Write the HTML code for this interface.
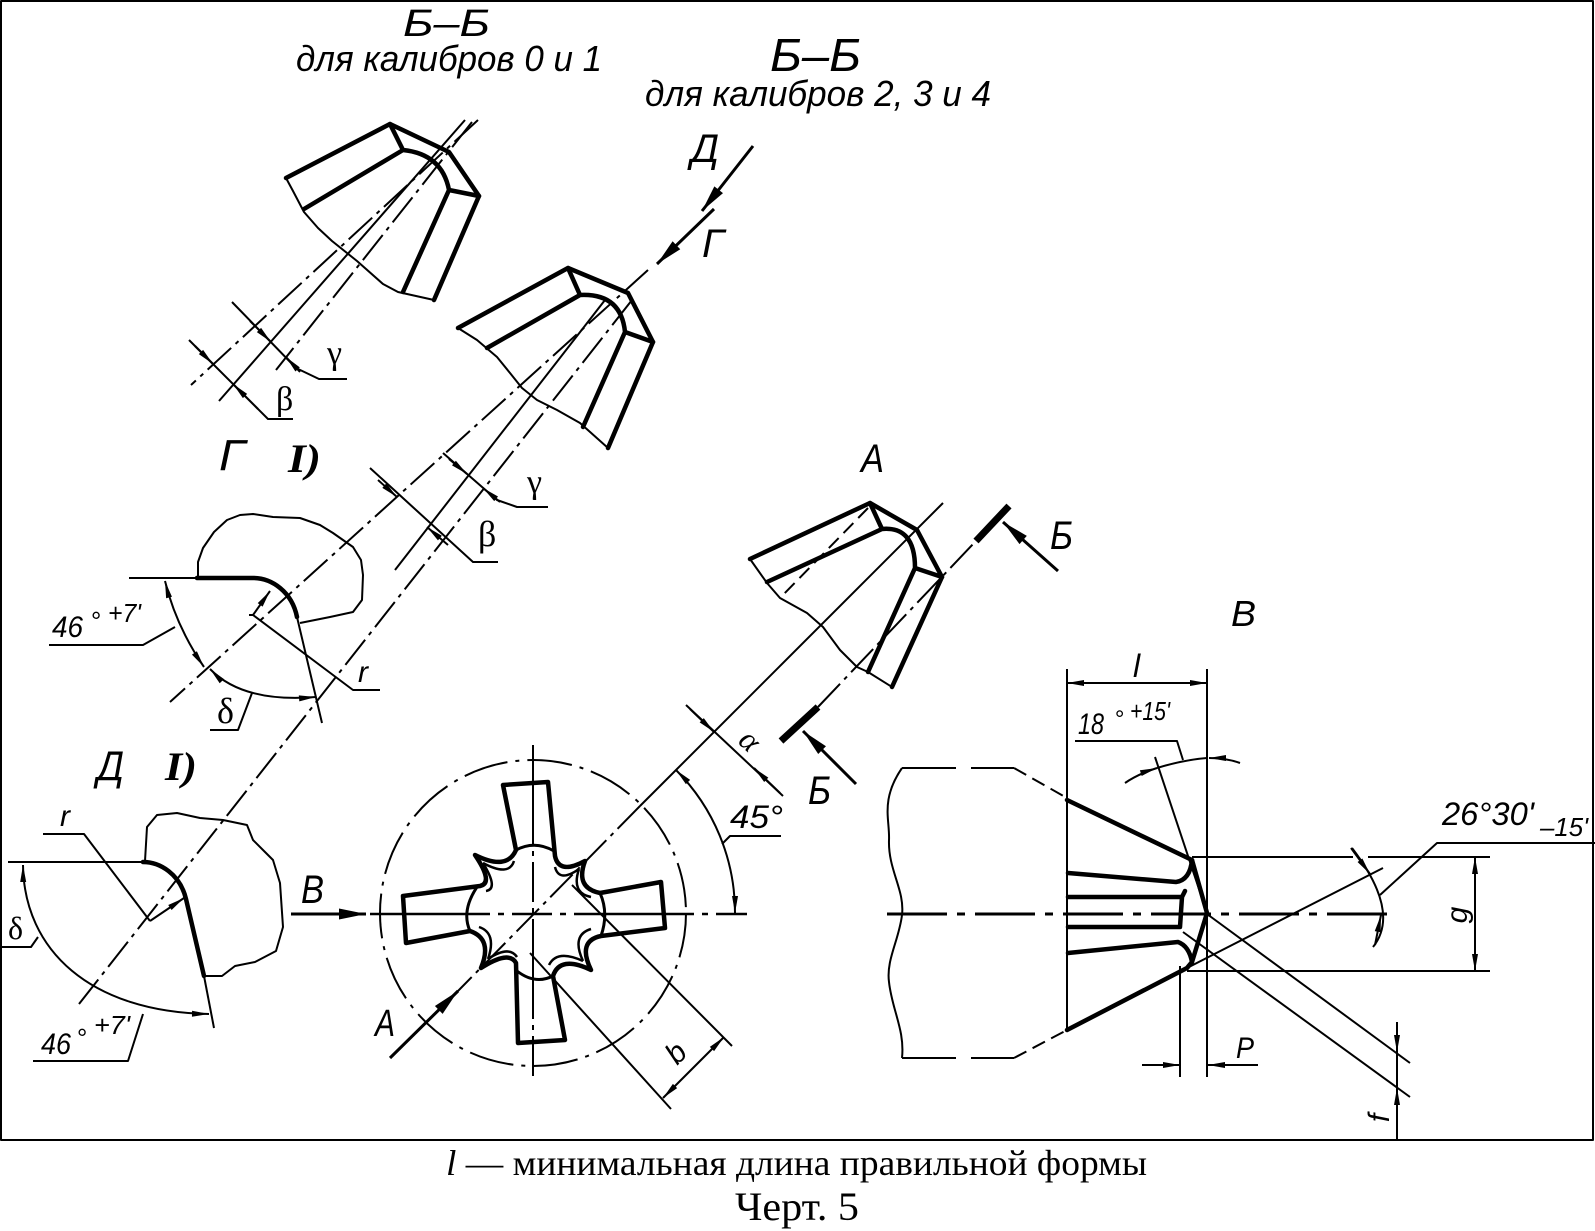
<!DOCTYPE html>
<html><head><meta charset="utf-8">
<style>
html,body{margin:0;padding:0;background:#fff;}
svg{display:block}
.k{stroke:#000;stroke-width:4.5;fill:none;stroke-linejoin:round;stroke-linecap:round}
.m{stroke:#000;stroke-width:3;fill:none}
.t{stroke:#000;stroke-width:2;fill:none;stroke-linejoin:round}
.dd{stroke-dasharray:32 6 4 6}
.ds{stroke-dasharray:14 7}
.g{font-family:"Liberation Sans",sans-serif;font-style:italic;fill:#000}
.s{font-family:"Liberation Serif",serif;fill:#000}
</style></head><body>
<svg width="1595" height="1231" viewBox="0 0 1595 1231" xmlns="http://www.w3.org/2000/svg">
<defs>
<marker id="a" markerUnits="userSpaceOnUse" markerWidth="18" markerHeight="8" refX="17" refY="4" orient="auto-start-reverse" overflow="visible"><path d="M0,1 L17,4 L0,7z" fill="#000"/></marker>
<marker id="b" markerUnits="userSpaceOnUse" markerWidth="28" markerHeight="12" refX="27" refY="6" orient="auto-start-reverse" overflow="visible"><path d="M0,0.5 L27,6 L0,11.5z" fill="#000"/></marker>
</defs>
<rect x="0" y="0" width="1595" height="1231" fill="#fff"/>
<rect x="1" y="1" width="1592" height="1139" class="t"/>

<!-- Titles -->
<text class="g" x="403" y="36" font-size="38" textLength="87" lengthAdjust="spacingAndGlyphs">Б–Б</text>
<text class="g" x="296" y="71" font-size="36" textLength="306" lengthAdjust="spacingAndGlyphs">для калибров 0 и 1</text>
<text class="g" x="770" y="71" font-size="46" textLength="91" lengthAdjust="spacingAndGlyphs">Б–Б</text>
<text class="g" x="645" y="106" font-size="36" textLength="346" lengthAdjust="spacingAndGlyphs">для калибров 2, 3 и 4</text>

<!-- Shape 1 -->
<path class="k" d="M286,178 L390,124 L449,152 L479,196 L434,300"/>
<path class="t" d="M286,178 L293,191 L304,212 L318,228 L332,241 L357,261 L383,284 L398,292 L434,300"/>
<path class="k" d="M304,209 L403,150 M390,124 L403,150 M403,150 Q442,154 449,190 M449,190 L479,196 M449,190 L403,292"/>
<path class="t dd" d="M478,120 L191,385"/>
<path class="t" d="M465,120 L219,401"/>
<path class="t dd" d="M472,122 L276,370"/>
<!-- beta/gamma 1 -->
<path class="t" d="M189,340 L268,419 L293,419"/>
<path class="t" d="M195,346 L213,364" marker-end="url(#a)"/>
<path class="t" d="M258,409 L233,384" marker-end="url(#a)"/>
<path class="t" d="M232,302 L296,368 L319,379 L347,379"/>
<path class="t" d="M250,321 L271,342" marker-end="url(#a)"/>
<path class="t" d="M300,372 L286,357" marker-end="url(#a)"/>
<text class="s" x="276" y="410" font-size="34">β</text>
<text class="s" x="327" y="364" font-size="34">γ</text>

<!-- Shape 2 -->
<path class="k" d="M458,328 L568,268 L628,293 L653,342 L608,448"/>
<path class="t" d="M458,328 L477,340 L497,357 L510,373 L522,388 L537,400 L557,410 L580,423 L608,448"/>
<path class="k" d="M487,348 L580,295 M568,268 L580,295 M580,295 Q621,293 625,332 M625,332 L653,342 M625,332 L583,427"/>
<path class="t dd" d="M648,270 L170,702"/>
<path class="t dd" d="M632,300 L79,1004"/>
<path class="t" d="M605,300 L395,570"/>
<path class="t" d="M370,468 L473,562 L498,562"/>
<path class="t" d="M378,480 L397,497" marker-end="url(#a)"/>
<path class="t" d="M448,545 L427,527" marker-end="url(#a)"/>
<path class="t" d="M443,453 L497,500 L517,507 L548,507"/>
<path class="t" d="M449,459 L467,474" marker-end="url(#a)"/>
<path class="t" d="M500,502 L483,488" marker-end="url(#a)"/>
<text class="s" x="478" y="546" font-size="36">β</text>
<text class="s" x="527" y="493" font-size="34">γ</text>

<!-- Д, Г arrows -->
<path class="m" d="M753,146 L702,211" marker-end="url(#b)"/>
<path class="m" d="M714,209 L657,264" marker-end="url(#b)"/>
<text class="g" x="691" y="162" font-size="40" textLength="28" lengthAdjust="spacingAndGlyphs">Д</text>
<text class="g" x="702" y="257" font-size="40" textLength="22" lengthAdjust="spacingAndGlyphs">Г</text>

<!-- Г detail -->
<text class="g" x="219" y="470" font-size="44" textLength="26" lengthAdjust="spacingAndGlyphs">Г</text>
<text class="s" x="288" y="472" font-size="40" font-style="italic" font-weight="bold" textLength="33" lengthAdjust="spacingAndGlyphs">I)</text>
<path class="t" d="M129,578 L197,578"/>
<path class="k" d="M197,578 L253,578 C272,578 292,592 297,617"/>
<path class="t" d="M297,617 L322,723"/>
<path class="t" d="M198,577 L198,562 L203,548 L214,532 L227,520 L240,515 L253,514 L273,517 L300,518 L320,525 L333,533 L353,547 L361,560 L363,575 L362,600 L353,612 L330,617 L300,623"/>
<path class="t" d="M49,645 L143,645 L175,627"/>
<path class="t" d="M165,581 Q176,626 204,667" marker-start="url(#a)" marker-end="url(#a)"/>
<path class="t" d="M210,669 Q243,703 316,697" marker-start="url(#a)" marker-end="url(#a)"/>
<path class="t" d="M252,693 L238,730 L210,730"/>
<path class="t" d="M253,615 L270,591" marker-end="url(#a)"/>
<path class="t" d="M249,615 L253,615 L353,690 L380,690"/>
<text class="g" x="52" y="637" font-size="30" textLength="31" lengthAdjust="spacingAndGlyphs">46</text>
<text class="g" x="90" y="630" font-size="26">°</text>
<text class="g" x="108" y="622" font-size="26" textLength="33" lengthAdjust="spacingAndGlyphs">+7'</text>
<text class="s" x="217" y="723" font-size="36">δ</text>
<text class="g" x="358" y="682" font-size="30">r</text>

<!-- Д detail -->
<text class="g" x="97" y="780" font-size="42" textLength="27" lengthAdjust="spacingAndGlyphs">Д</text>
<text class="s" x="165" y="780" font-size="40" font-style="italic" font-weight="bold" textLength="32" lengthAdjust="spacingAndGlyphs">I)</text>
<path class="t" d="M8,862 L143,862"/>
<path class="k" d="M143,862 C160,862 180,874 186,899 L204,976"/>
<path class="t" d="M204,976 L214,1028"/>
<path class="t" d="M145,861 L147,827 L157,815 L177,813 L200,818 L223,820 L247,825 L253,840 L265,852 L273,860 L280,883 L283,927 L276,951 L255,962 L235,966 L222,976 L204,976"/>
<path class="t" d="M43,834 L84,834 L150,921"/>
<path class="t" d="M150,921 L184,898" marker-end="url(#a)"/>
<path class="t" d="M23,865 C24,950 90,1012 209,1014" marker-start="url(#a)" marker-end="url(#a)"/>
<path class="t" d="M0,947 L31,947 L38,937"/>
<path class="t" d="M33,1061 L128,1061 L143,1014"/>
<text class="g" x="41" y="1054" font-size="30" textLength="30" lengthAdjust="spacingAndGlyphs">46</text>
<text class="g" x="76" y="1047" font-size="26">°</text>
<text class="g" x="94" y="1034" font-size="26" textLength="36" lengthAdjust="spacingAndGlyphs">+7'</text>
<text class="s" x="8" y="939" font-size="32">δ</text>
<text class="g" x="60" y="826" font-size="30">r</text>

<!-- Main cross view -->
<circle cx="533" cy="913" r="153" class="t" style="stroke-dasharray:45 8 4 8"/>
<path class="t" d="M533,745 L533,1079" style="stroke-dasharray:100 6 5 6 40 6 5 6"/>
<path class="m" d="M370,914 L747,914" style="stroke-width:2.6;stroke-dasharray:120 8 6 8 40 8 6 8"/>
<path class="m" d="M291,914 L366,914" marker-end="url(#b)"/>
<path class="m" d="M390,1058 L458,991" marker-end="url(#b)"/>
<text class="g" x="301" y="903" font-size="40" textLength="23" lengthAdjust="spacingAndGlyphs">В</text>
<text class="g" x="375" y="1036" font-size="38" textLength="20" lengthAdjust="spacingAndGlyphs">А</text>
<path class="t" d="M943,503 L640,806"/>
<path class="t dd" d="M640,806 L457,992"/>
<g transform="translate(533,913)">
<path class="k" d="M-17,-63 L-30,-128 L15,-131 L22,-57 Q26,-38 52,-52 Q42,-25 67,-20 L128,-31 L132,15 L68,23 Q44,28 58,57 Q27,42 20,63 L32,127 L-15,130 L-17,50 Q-24,37 -52,55 Q-40,26 -63,18 L-127,30 L-130,-17 L-53,-27 Q-39,-30 -58,-58 Q-26,-42 -17,-63 Z"/>
<path class="t" style="stroke-width:2.5" d="M-19,-52 Q-24,-36 -50,-50 M-47,-22 Q-34,-24 -50,-50 M22,-46 Q26,-30 46,-44 M58,-16 Q38,-20 46,-44 M58,16 Q38,22 50,48 M16,52 Q24,36 50,48 M-16,44 Q-24,32 -45,46 M-54,14 Q-36,20 -45,46"/>
<path class="m" d="M-17,-63 Q2,-73 21,-62 M67,-20 Q76,0 68,23 M-16,58 Q2,72 20,63 M-63,18 Q-72,-2 -56,-26"/>
</g>
<path class="t" d="M572,885 L732,1046 M530,953 L671,1109"/>
<path class="t" d="M663,1098 L724,1037" marker-start="url(#a)" marker-end="url(#a)"/>
<text class="g" font-size="30" transform="translate(683,1060) rotate(-45)" text-anchor="middle">b</text>
<path class="t" d="M735,913 A202,202 0 0 0 676,770" marker-start="url(#a)" marker-end="url(#a)"/>
<path class="t" d="M722,844 L730,836 L781,836"/>
<text class="g" x="730" y="828" font-size="32" textLength="53" lengthAdjust="spacingAndGlyphs">45°</text>
<path class="t" d="M686,705 L783,796"/>
<path class="t" d="M690,709 L714,732" marker-end="url(#a)"/>
<path class="t" d="M780,793 L754,768" marker-end="url(#a)"/>
<text class="s" font-size="32" font-style="italic" transform="translate(743,748) rotate(43)" text-anchor="middle">α</text>

<!-- Б cutting plane -->
<path d="M781,741 L818,707" stroke="#000" stroke-width="7" fill="none"/>
<path d="M976,541 L1009,506" stroke="#000" stroke-width="7" fill="none"/>
<path class="t dd" d="M818,707 L976,541"/>
<path class="m" d="M856,784 L803,731" marker-end="url(#b)"/>
<path class="m" d="M1058,571 L1003,522" marker-end="url(#b)"/>
<text class="g" x="808" y="804" font-size="40" textLength="23" lengthAdjust="spacingAndGlyphs">Б</text>
<text class="g" x="1050" y="549" font-size="40" textLength="23" lengthAdjust="spacingAndGlyphs">Б</text>

<!-- A detail -->
<text class="g" x="861" y="472" font-size="40" textLength="23" lengthAdjust="spacingAndGlyphs">А</text>
<path class="k" d="M750,559 L870,503 L917,530 L942,577 L892,687"/>
<path class="t" d="M750,559 L767,583 L780,598 L807,613 L823,627 L840,650 L857,667 L868,672 L892,687"/>
<path class="k" d="M767,582 L882,529 M870,503 L882,529 M882,529 Q915,526 915,568 M915,568 L942,577 M915,568 L868,672"/>
<path class="t ds" d="M868,508 L780,598"/>

<!-- Right B detail -->
<text class="g" x="1231" y="626" font-size="36" textLength="25" lengthAdjust="spacingAndGlyphs">В</text>
<path class="t" d="M1067,669 L1067,1030 M1207,669 L1207,1077 M1180,966 L1180,1077"/>
<path class="t" d="M1067,683 L1207,683" marker-start="url(#a)" marker-end="url(#a)"/>
<text class="g" x="1133" y="677" font-size="32">l</text>
<path class="t" d="M1075,741 L1177,741 L1183,760"/>
<text class="g" x="1078" y="734" font-size="30" textLength="26" lengthAdjust="spacingAndGlyphs">18</text>
<text class="g" x="1114" y="727" font-size="24">°</text>
<text class="g" x="1130" y="720" font-size="26" textLength="40" lengthAdjust="spacingAndGlyphs">+15'</text>
<path class="t" d="M1155,757 L1207,913"/>
<path class="t" d="M1125,783 Q1138,774 1157,768" marker-end="url(#a)"/>
<path class="t" d="M1157,768 Q1183,760 1207,758"/>
<path class="t" d="M1240,763 Q1226,758 1209,758" marker-end="url(#a)"/>
<path class="t" d="M902,768 C880,800 890,820 889,840 C888,870 905,890 902,915 C899,940 886,960 889,982 C892,1010 905,1030 902,1058"/>
<path class="t" d="M902,768 L956,768 M971,768 L1014,768 M902,1058 L956,1058 M971,1058 L1014,1058"/>
<path class="t ds" d="M1014,768 L1067,798 M1014,1058 L1067,1030"/>
<path class="k" d="M1067,800 L1192,860 L1207,913 L1192,962 L1187,968 L1067,1030"/>
<path class="k" d="M1068,873 L1176,882 Q1190,880 1192,860"/>
<path class="k" d="M1068,897 L1182,897 L1185,891 M1182,897 L1180,927 L1068,927"/>
<path class="k" d="M1068,953 L1178,942 Q1189,946 1192,962"/>
<path class="m" d="M887,914 L1393,914" style="stroke-dasharray:60 10 8 10"/>
<path class="t" d="M1192,857 L1353,857 M1368,857 L1490,857 M1187,971 L1490,971"/>
<path class="t" d="M1475,857 L1475,971" marker-start="url(#a)" marker-end="url(#a)"/>
<text class="g" font-size="30" transform="translate(1467,915) rotate(-90)" text-anchor="middle">g</text>
<path class="t" d="M1207,914 L1410,1063 M1183,932 L1410,1097 M1187,968 L1383,868"/>
<path class="t" d="M1352,848 Q1401,912 1373,947"/>
<path class="t" d="M1351,848 L1370,874" marker-end="url(#a)"/>
<path class="t" d="M1375,945 L1381,915" marker-end="url(#a)"/>
<path class="t" d="M1380,895 L1437,843 L1595,843"/>
<text class="g" x="1442" y="825" font-size="32" textLength="92" lengthAdjust="spacingAndGlyphs">26°30'</text>
<text class="g" x="1540" y="836" font-size="26" textLength="48" lengthAdjust="spacingAndGlyphs">–15'</text>
<path class="t" d="M1397,1022 L1397,1140"/>
<path class="t" d="M1397,1025 L1397,1052" marker-end="url(#a)"/>
<path class="t" d="M1397,1130 L1397,1088" marker-end="url(#a)"/>
<text class="g" font-size="30" transform="translate(1389,1118) rotate(-90)" text-anchor="middle">f</text>
<path class="t" d="M1142,1065 L1180,1065" marker-end="url(#a)"/>
<path class="t" d="M1258,1065 L1208,1065" marker-end="url(#a)"/>
<text class="g" x="1236" y="1058" font-size="30" textLength="18" lengthAdjust="spacingAndGlyphs">P</text>

<!-- Caption -->
<text class="s" x="446" y="1175" font-size="36" textLength="701" lengthAdjust="spacingAndGlyphs"><tspan font-style="italic">l</tspan> — минимальная длина правильной формы</text>
<text class="s" x="735" y="1220" font-size="40" textLength="124" lengthAdjust="spacingAndGlyphs">Черт. 5</text>
</svg>
</body></html>
